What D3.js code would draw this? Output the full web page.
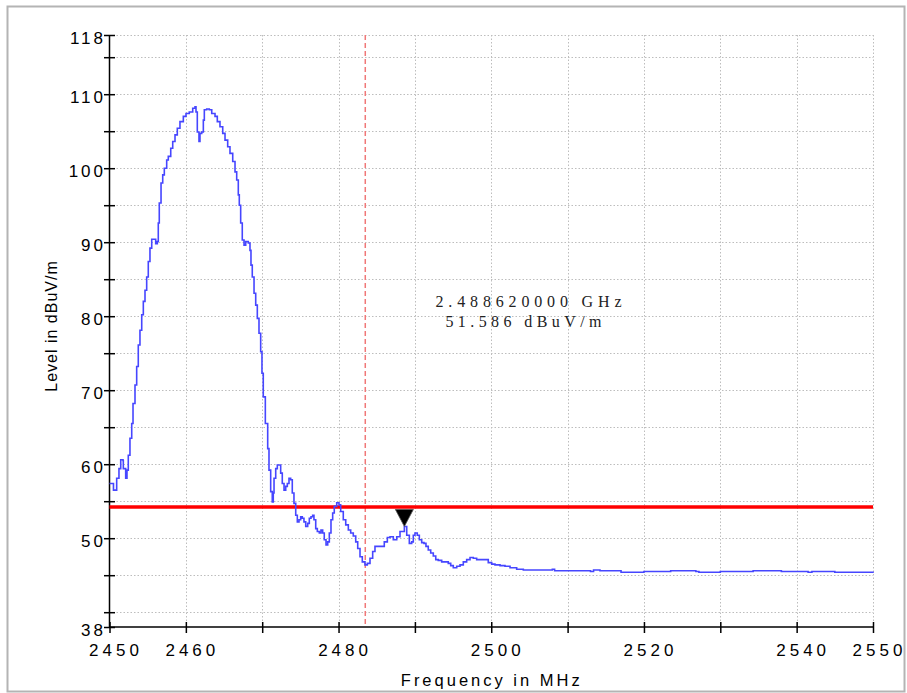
<!DOCTYPE html>
<html><head><meta charset="utf-8">
<script src="https://cdn.jsdelivr.net/npm/d3@7"></script>
<style>html,body{margin:0;padding:0;background:#fff;}svg{display:block;}</style>
</head><body><svg id="c" width="907" height="693"></svg>
<script>
// ---- data ----
const freqsMain = [2450.0,2450.29,2450.52,2450.72,2450.94,2451.24,2451.47,2451.77,2451.81,2452.12,2452.29,2452.46,2452.68,2452.91,2453.08,2453.34,2453.56,2453.77,2453.99,2454.22,2454.43,2454.65,2454.87,2455.08,2455.30,2455.53,2455.74,2456.05,2456.26,2456.39,2456.52,2456.75,2456.97,2457.18,2457.49,2457.70,2458.02,2458.28,2458.58,2458.88,2459.23,2459.67,2460.02,2460.45,2460.90,2461.20,2461.33,2461.50,2461.72,2461.85,2462.08,2462.29,2462.42,2462.73,2463.07,2463.39,2463.82,2464.12,2464.47,2464.83,2465.13,2465.48,2465.78,2466.14,2466.44,2466.66,2466.87,2467.00,2467.18,2467.39,2467.62,2467.84,2468.18,2468.40,2468.53,2468.70,2468.93,2469.15,2469.36,2469.58,2469.80,2469.97,2470.14,2470.41,2470.72,2470.89,2471.11,2471.32,2471.45,2471.55,2471.77,2471.98,2472.24,2472.42,2472.63,2472.86,2473.08,2473.29,2473.51,2473.73,2473.94,2474.16,2474.39,2474.60,2474.82,2475.04,2475.25,2475.47,2475.70,2475.96,2476.17,2476.39,2476.61,2476.78,2477.01,2477.22,2477.48,2477.70,2477.92,2478.13,2478.36,2478.58,2478.79,2479.01,2479.23,2479.44,2479.76,2480.06,2480.28,2480.62,2480.94,2481.28,2481.59,2481.93,2482.25,2482.51,2482.81,2483.11,2483.46,2483.77,2484.12,2484.47,2484.77,2485.21,2485.65,2485.99,2486.39,2486.74,2487.17,2487.62,2488.05,2488.62,2488.93,2489.27,2489.58,2489.79,2490.01,2490.31,2490.58,2490.89,2491.19,2491.45,2491.75,2492.07,2492.41,2492.73,2493.06,2493.51,2493.94,2494.37,2494.69,2495.03,2495.48,2495.91,2496.34,2496.78];
const levelsMain = [57.4,57.4,56.5,56.5,58.1,59.4,60.6,60.5,59.4,58.1,59.2,61.2,63.5,65.5,68.2,70.7,73.2,76.1,78.1,80.2,82.0,83.5,85.3,87.4,89.2,90.4,90.4,89.8,90.1,92.6,95.3,98.0,99.1,100.0,101.1,101.6,102.7,103.6,104.5,105.4,106.3,107.0,107.4,107.6,108.1,108.3,107.6,104.9,103.6,104.7,104.9,106.5,107.9,108.0,107.9,107.4,107.0,106.3,105.6,104.7,103.8,102.9,102.0,100.9,99.5,98.4,96.4,95.0,92.6,90.3,89.6,90.1,89.9,88.9,86.9,85.3,83.1,81.5,79.7,77.7,75.2,72.3,69.1,65.5,62.1,59.2,56.3,54.9,56.1,58.1,59.4,59.9,59.9,58.8,57.4,56.5,57.0,57.4,58.1,57.9,56.1,54.7,53.1,52.2,52.5,52.9,52.7,52.2,51.6,52.0,52.7,52.9,53.1,52.5,51.3,50.9,50.7,51.1,50.7,49.8,49.1,49.5,50.7,52.5,53.4,54.3,54.8,54.5,53.6,52.5,51.8,51.1,50.7,50.3,49.5,48.6,47.5,46.8,46.4,46.6,47.3,48.2,48.9,48.9,48.9,49.5,50.1,50.2,49.8,50.2,50.9,51.586,50.4,49.3,49.5,50.4,50.7,50.4,49.8,49.4,49.3,48.9,48.4,48.0,47.6,47.1,47.0,46.8,46.8,46.6,46.3,46.0,46.2,46.4,46.8,47.1];
const freqsTail = [2497.22,2497.65,2498.09,2498.53,2498.96,2499.31,2499.61,2500.06,2500.49,2501.15,2501.80,2502.46,2503.33,2504.20,2505.51,2507.26,2508.0,2508.3,2509.44,2511.62,2513.0,2513.4,2514.24,2516.5,2517.0,2520.0,2523.1,2523.5,2526.8,2527.2,2530.0,2533.9,2534.3,2538.0,2540.0,2541.5,2542.0,2544.5,2545.0,2550.0];
const levelsTail = [47.4,47.3,47.1,47.1,47.1,47.1,46.7,46.5,46.4,46.3,46.2,46.0,45.8,45.7,45.7,45.7,45.8,45.6,45.6,45.6,45.5,45.7,45.6,45.6,45.4,45.5,45.5,45.6,45.5,45.4,45.5,45.5,45.6,45.5,45.5,45.4,45.5,45.5,45.4,45.5];
const limitLevel = 54.2;
const bandEdge = 2483.5;
const markerFreq = 2488.62;
const markerLevel = 51.586;
const xTicks = [2450,2460,2470,2480,2490,2500,2510,2520,2530,2540,2550];
const xTickLabels = [2450,2460,2480,2500,2520,2540,2550];
const yTicks = [38,40,45,50,55,60,65,70,75,80,85,90,95,100,105,110,115,118];
const yTickLabels = [38,50,60,70,80,90,100,110,118];
const yGrid = [40,45,50,55,60,65,70,75,80,85,90,95,100,105,110,115,118];
const annLines = ["2.488620000 GHz", "51.586 dBuV/m"];

// ---- layout ----
const svg = d3.select("#c");
const L = 109.5, T = 35, R = 873, B = 627;
const x = d3.scaleLinear().domain([2450,2550]).range([L,R]);
const y = d3.scaleLinear().domain([38,118]).range([B,T]);

svg.append("rect").attr("x",7.5).attr("y",6.5).attr("width",897).attr("height",685)
  .attr("fill","#fff").attr("stroke","#b4b4b4").attr("stroke-width",2);

// grid
const g = svg.append("g");
g.selectAll("line.gx").data(xTicks.slice(1)).join("line")
  .attr("x1",d=>Math.round(x(d))+0.5).attr("x2",d=>Math.round(x(d))+0.5)
  .attr("y1",T).attr("y2",B)
  .attr("stroke","#bdbdbd").attr("stroke-width",1).attr("stroke-dasharray","1.5,2");
g.selectAll("line.gy").data(yGrid).join("line")
  .attr("x1",L).attr("x2",R)
  .attr("y1",d=>Math.round(y(d))+0.5).attr("y2",d=>Math.round(y(d))+0.5)
  .attr("stroke","#bdbdbd").attr("stroke-width",1).attr("stroke-dasharray","1.5,2");

// band edge line
svg.append("line").attr("x1",x(bandEdge)).attr("x2",x(bandEdge)).attr("y1",T).attr("y2",B)
  .attr("stroke","#f07878").attr("stroke-width",1.5).attr("stroke-dasharray","5,3");

// axes
const xAxis = d3.axisBottom(x).tickValues(xTicks).tickSize(11)
  .tickFormat(d=>xTickLabels.includes(d)?String(d):"");
const xg = svg.append("g").attr("transform",`translate(0,${B-5})`).call(xAxis);
xg.select(".domain").remove();
xg.selectAll(".tick line").attr("stroke","#000").attr("stroke-width",1.5);
xg.selectAll(".tick text").attr("font-family","'Liberation Sans',Arial,sans-serif")
  .attr("font-size",17).attr("letter-spacing","4px").attr("fill","#000")
  .attr("dy","1.15em").attr("dx","6");
svg.append("line").attr("x1",L).attr("x2",R).attr("y1",B).attr("y2",B).attr("stroke","#000").attr("stroke-width",1.5);

const yAxis = d3.axisLeft(y).tickValues(yTicks).tickSize(11)
  .tickFormat(d=>yTickLabels.includes(d)?String(d):"");
const yg = svg.append("g").attr("transform",`translate(${L+5.5},0)`).call(yAxis);
yg.select(".domain").remove();
yg.selectAll(".tick line").attr("stroke","#000").attr("stroke-width",1.5);
yg.selectAll(".tick text").attr("font-family","'Liberation Sans',Arial,sans-serif")
  .attr("font-size",17).attr("letter-spacing","3px").attr("fill","#000")
  .attr("x",-9).attr("dy","0.5em");
svg.append("line").attr("x1",L).attr("x2",L).attr("y1",T).attr("y2",B).attr("stroke","#000").attr("stroke-width",1.5);

// limit line
svg.append("line").attr("x1",L).attr("x2",R).attr("y1",y(limitLevel)).attr("y2",y(limitLevel))
  .attr("stroke","#ff0000").attr("stroke-width",3.5);

// trace
const freqs = freqsMain.concat(freqsTail);
const levels = levelsMain.concat(levelsTail);
const n = Math.min(freqs.length, levels.length);
const data = d3.range(n).map(i=>({f:freqs[i], v:levels[i]}));
const line = d3.line().x(d=>x(d.f)).y(d=>y(d.v)).curve(d3.curveStepAfter);
svg.append("path").datum(data).attr("d",line).attr("fill","none")
  .attr("stroke","#4646ff").attr("stroke-width",1.6);

// marker
const mx = x(markerFreq), my = y(markerLevel);
svg.append("path").attr("d",`M${mx},${my} L${mx-9},${my-17} L${mx+9},${my-17} Z`)
  .attr("fill","#000").attr("stroke","#555").attr("stroke-width",0.8);

// annotation
const ann = svg.append("g").attr("font-family","'Liberation Serif','Times New Roman',serif")
  .attr("font-size",16).attr("fill","#222");
ann.append("text").attr("x",x(2492.7)).attr("y",y(81.2)).attr("textLength",186)
  .attr("lengthAdjust","spacing").text(annLines[0]);
ann.append("text").attr("x",x(2494.0)).attr("y",y(78.5)).attr("textLength",156)
  .attr("lengthAdjust","spacing").text(annLines[1]);

// titles
svg.append("text").attr("x",(L+R)/2+0.5).attr("y",686).attr("text-anchor","middle")
  .attr("font-family","'Liberation Sans',Arial,sans-serif").attr("font-size",16.5)
  .attr("letter-spacing","3px").attr("fill","#000").text("Frequency in MHz");
svg.append("text").attr("transform","translate(57,326) rotate(-90)").attr("text-anchor","middle")
  .attr("font-family","'Liberation Sans',Arial,sans-serif").attr("font-size",16)
  .attr("letter-spacing","1px").attr("fill","#000").text("Level in dBuV/m");
</script></body></html>
